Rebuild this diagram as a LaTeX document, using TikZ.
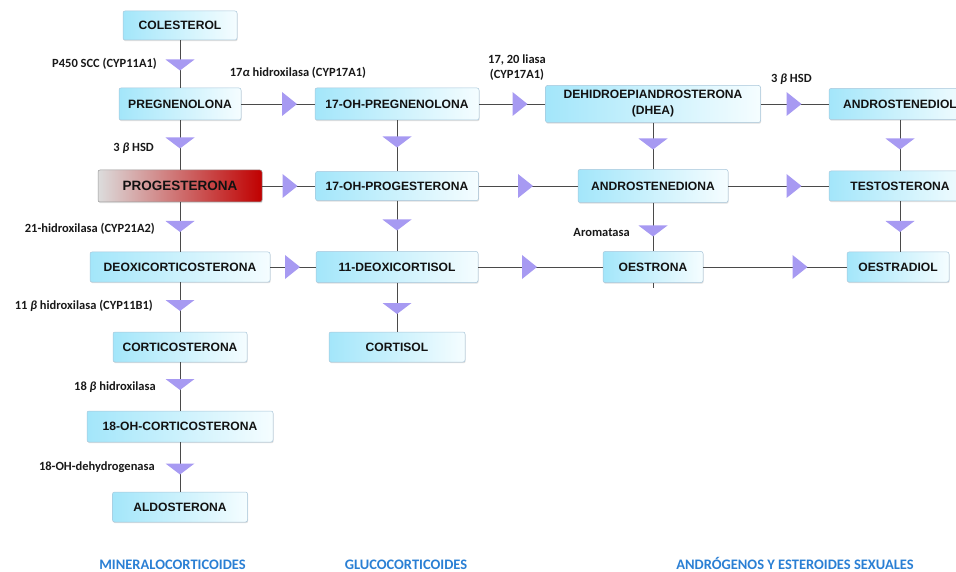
\documentclass[tikz,border=0pt]{standalone}
\usepackage{fontspec}
\setmainfont{Liberation Sans}
\newfontfamily\labelfont{Carlito}
\usetikzlibrary{shadows}
\definecolor{boxL}{HTML}{A3E6FA}
\definecolor{boxM}{HTML}{D6F4FD}
\definecolor{boxR}{HTML}{F5FDFF}
\definecolor{boxB}{HTML}{A8C6DA}
\definecolor{tric}{HTML}{A79AF2}
\definecolor{linec}{HTML}{4A4A4A}
\definecolor{groupc}{HTML}{2A7FD4}
\definecolor{progL}{HTML}{DCDCDC}
\definecolor{progR}{HTML}{C00000}
\begin{document}
\begin{tikzpicture}[x=1pt,y=-1pt,
  box/.style={draw=boxB, line width=0.5pt, rounded corners=2pt, left color=boxL, middle color=boxM, right color=boxR,
    drop shadow={shadow xshift=0.6pt,shadow yshift=-1.2pt,opacity=0.25},
    font=\bfseries\fontsize{12.1}{16}\selectfont, text=black!93, inner sep=0pt, align=center},
  progbox/.style={box, draw=progL!70!black, left color=progL, middle color=progL!45!progR, right color=progR,
    font=\bfseries\fontsize{13.5}{16}\selectfont},
  conn/.style={draw=linec, line width=0.8pt},
  lab/.style={font=\labelfont\bfseries\fontsize{12.5}{15}\selectfont, text=black!90, inner sep=0pt},
  grp/.style={font=\labelfont\bfseries\fontsize{14.5}{17}\selectfont, text=groupc, inner sep=0pt},
  dtri/.pic={\fill[tric] (-14.5,-5.5) -- (14.5,-5.5) -- (0,5.5) -- cycle;},
  rtri/.pic={\fill[tric] (-7.5,-12) -- (7.5,0) -- (-7.5,12) -- cycle;}
]
\useasboundingbox (0,0) rectangle (956,572);

% column 1
\node[box, minimum width=114pt, minimum height=29pt] (col) at (180,25.5) {COLESTEROL};
\node[box, minimum width=122pt, minimum height=32pt] (preg) at (180,104) {PREGNENOLONA};
\node[progbox, minimum width=164pt, minimum height=32pt] (prog) at (180,186) {PROGESTERONA};
\node[box, minimum width=180pt, minimum height=30pt] (deoxi) at (180,267) {DEOXICORTICOSTERONA};
\node[box, minimum width=134pt, minimum height=30pt] (cortico) at (180,347) {CORTICOSTERONA};
\node[box, minimum width=186pt, minimum height=31pt] (ohcort) at (180,426.5) {18-OH-CORTICOSTERONA};
\node[box, minimum width=135pt, minimum height=30pt] (aldo) at (180,507) {ALDOSTERONA};

% column 2
\node[box, minimum width=164pt, minimum height=32pt] (ohpreg) at (397,104) {17-OH-PREGNENOLONA};
\node[box, minimum width=163pt, minimum height=29pt] (ohprog) at (397,186) {17-OH-PROGESTERONA};
\node[box, minimum width=162pt, minimum height=31pt] (deoxicort) at (397,267) {11-DEOXICORTISOL};
\node[box, minimum width=136pt, minimum height=30pt] (cortisol) at (397,347) {CORTISOL};

% column 3
\node[box, minimum width=215pt, minimum height=37pt] (dhea) at (653,104) {DEHIDROEPIANDROSTERONA\\(DHEA)};
\node[box, minimum width=150pt, minimum height=33pt] (andiona) at (653,186) {ANDROSTENEDIONA};
\node[box, minimum width=100pt, minimum height=31pt] (oestrona) at (653,267) {OESTRONA};
\coordinate (stub) at (653,288);

% column 4
\node[box, minimum width=142pt, minimum height=31pt] (andiol) at (900,104) {ANDROSTENEDIOL};
\node[box, minimum width=142pt, minimum height=30pt] (testo) at (900,186) {TESTOSTERONA};
\node[box, minimum width=102pt, minimum height=30pt] (oestradiol) at (898,267) {OESTRADIOL};

% vertical connectors
\draw[conn] (col) -- (preg);
\draw[conn] (preg) -- (prog);
\draw[conn] (prog) -- (deoxi);
\draw[conn] (deoxi) -- (cortico);
\draw[conn] (cortico) -- (ohcort);
\draw[conn] (ohcort) -- (aldo);
\draw[conn] (ohpreg) -- (ohprog);
\draw[conn] (ohprog) -- (deoxicort);
\draw[conn] (deoxicort) -- (cortisol);
\draw[conn] (dhea) -- (andiona);
\draw[conn] (andiona) -- (oestrona);
\draw[conn] (oestrona) -- (stub);
\draw[conn] (andiol) -- (testo);
\draw[conn] (testo) -- (testo |- oestradiol.north);

% horizontal connectors
\draw[conn] (preg) -- (ohpreg);
\draw[conn] (ohpreg) -- (dhea);
\draw[conn] (dhea) -- (andiol);
\draw[conn] (prog) -- (ohprog);
\draw[conn] (ohprog) -- (andiona);
\draw[conn] (andiona) -- (testo);
\draw[conn] (deoxi) -- (deoxicort);
\draw[conn] (deoxicort) -- (oestrona);
\draw[conn] (oestrona) -- (oestradiol);

% arrow triangles (vertical)
\pic at (180,65) {dtri};
\pic at (180,143) {dtri};
\pic at (180,226.5) {dtri};
\pic at (180,305.5) {dtri};
\pic at (180,384.5) {dtri};
\pic at (180,469) {dtri};
\pic at (397,142) {dtri};
\pic at (397,225) {dtri};
\pic at (397,308.5) {dtri};
\pic at (653,144) {dtri};
\pic at (653,231) {dtri};
\pic at (900,144) {dtri};
\pic at (900,226.5) {dtri};

% arrow triangles (horizontal)
\pic at (289.5,104) {rtri};
\pic at (520,104) {rtri};
\pic at (794,104) {rtri};
\pic at (290,186) {rtri};
\pic at (525.5,186) {rtri};
\pic at (794,186) {rtri};
\pic at (292.5,267) {rtri};
\pic at (529.5,267) {rtri};
\pic at (800,267) {rtri};

% enzyme labels
\node[lab, anchor=east] (l1) at (157,64) {P450 SCC (CYP11A1)};
\node[lab] (l2) at (298,73) {17\textit{α} hidroxilasa (CYP17A1)};
\node[lab, anchor=east] (l3) at (154,148) {3 \textit{β} HSD};
\node[lab, align=center] (l4) at (517,68) {17, 20 liasa\\(CYP17A1)};
\node[lab, anchor=west] (l5) at (771,79) {3 \textit{β} HSD};
\node[lab, anchor=east] (l6) at (155,229) {21-hidroxilasa (CYP21A2)};
\node[lab, anchor=east] (l7) at (630,232) {Aromatasa};
\node[lab, anchor=east] (l8) at (153,306) {11 \textit{β} hidroxilasa (CYP11B1)};
\node[lab, anchor=east] (l9) at (156,387) {18 \textit{β} hidroxilasa};
\node[lab, anchor=east] (l10) at (155,467) {18-OH-dehydrogenasa};

% group labels
\node[grp] (g1) at (172.5,565) {MINERALOCORTICOIDES};
\node[grp] (g2) at (406,565) {GLUCOCORTICOIDES};
\node[grp] (g3) at (795,563) {ANDRÓGENOS Y ESTEROIDES SEXUALES};
\end{tikzpicture}
\end{document}
